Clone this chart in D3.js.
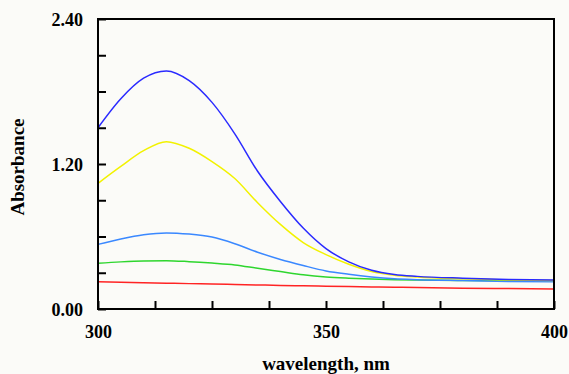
<!DOCTYPE html>
<html>
<head>
<meta charset="utf-8">
<script src="https://cdn.jsdelivr.net/npm/d3@7"></script>
<style>
  body{margin:0;background:#fbfbf8;}
  svg{display:block;}
</style>
</head>
<body>
<div id="chart"></div>
<script>
// wavelength (nm) and absorbance for each trace
var wavelengths = [300,305,310,315,320,325,330,335,340,345,350,355,360,365,370,380,390,400]
var blue   = [1.50,1.74,1.91,1.97,1.89,1.71,1.45,1.14,0.89,0.67,0.50,0.39,0.32,0.285,0.27,0.255,0.245,0.24]
var yellow = [1.04,1.18,1.31,1.385,1.33,1.22,1.08,0.88,0.70,0.55,0.45,0.37,0.31,0.28,0.265,0.25,0.24,0.235]
var skyblue= [0.535,0.58,0.615,0.63,0.62,0.595,0.54,0.47,0.41,0.36,0.315,0.287,0.265,0.25,0.243,0.235,0.228,0.225]
var green  = [0.378,0.39,0.398,0.40,0.392,0.38,0.365,0.337,0.31,0.283,0.265,0.255,0.248,0.243,0.24,0.236,0.233,0.232]
var red    = [0.226,0.222,0.218,0.214,0.21,0.207,0.203,0.199,0.195,0.192,0.189,0.186,0.183,0.18,0.177,0.172,0.169,0.166]

var xTicks = [300,312.5,325,337.5,350,362.5,375,387.5,400]
var xLabels = [300,350,400]
var yTicks = [0,0.3,0.6,0.9,1.2,1.5,1.8,2.1,2.4]
var yLabels = [0,1.2,2.4]

var series = [
  {name:'red', values:red, color:'#ff2424'},
  {name:'green', values:green, color:'#2ed62e'},
  {name:'skyblue', values:skyblue, color:'#3a88ff'},
  {name:'yellow', values:yellow, color:'#f2f200'},
  {name:'blue', values:blue, color:'#2a2aff'}
]

var width = 569, height = 374
var m = {left:98, right:15, top:19, bottom:65}
var font = '"Liberation Serif","Times New Roman",serif'

var svg = d3.select('#chart').append('svg')
  .attr('width',width).attr('height',height)
  .style('font-family',font)

var x = d3.scaleLinear().domain([300,400]).range([m.left,width-m.right])
var y = d3.scaleLinear().domain([0,2.4]).range([height-m.bottom,m.top])

var near = (list,v) => list.some(d=>Math.abs(d-v)<1e-6)

var gx = svg.append('g')
  .attr('transform',`translate(0,${height-m.bottom})`)
  .call(d3.axisBottom(x).tickValues(xTicks).tickSizeInner(-8).tickSizeOuter(0).tickPadding(16)
    .tickFormat(d=>near(xLabels,d)?d3.format('d')(d):''))
var gy = svg.append('g')
  .attr('transform',`translate(${m.left},0)`)
  .call(d3.axisLeft(y).tickValues(yTicks).tickSizeInner(-8).tickSizeOuter(0).tickPadding(15)
    .tickFormat(d=>near(yLabels,d)?d3.format('.2f')(d):''))

;[gx,gy].forEach(g=>{
  g.attr('font-family',null).attr('font-size',null)
  g.select('.domain').remove()
  g.selectAll('line').attr('stroke','#000').attr('stroke-width',2)
  g.selectAll('text').attr('fill','#000')
    .style('font-family',font).style('font-size','18px').style('font-weight','bold')
})
gy.selectAll('text').attr('dy','0.38em')

var line = d3.line()
  .x((d,i)=>x(wavelengths[i]))
  .y(d=>y(d))
  .curve(d3.curveMonotoneX)

svg.append('g').selectAll('path').data(series).enter().append('path')
  .attr('d',d=>line(d.values))
  .attr('fill','none')
  .attr('stroke',d=>d.color)
  .attr('stroke-width',1.5)

svg.append('rect')
  .attr('x',m.left).attr('y',m.top)
  .attr('width',width-m.left-m.right).attr('height',height-m.top-m.bottom)
  .attr('fill','none').attr('stroke','#000').attr('stroke-width',2)

svg.append('text')
  .attr('x',(m.left+width-m.right)/2).attr('y',370)
  .attr('text-anchor','middle')
  .style('font-size','19px').style('font-weight','bold')
  .text('wavelength, nm')

svg.append('text')
  .attr('transform','translate(24,167) rotate(-90)')
  .attr('text-anchor','middle')
  .style('font-size','19px').style('font-weight','bold')
  .text('Absorbance')
</script>
</body>
</html>
